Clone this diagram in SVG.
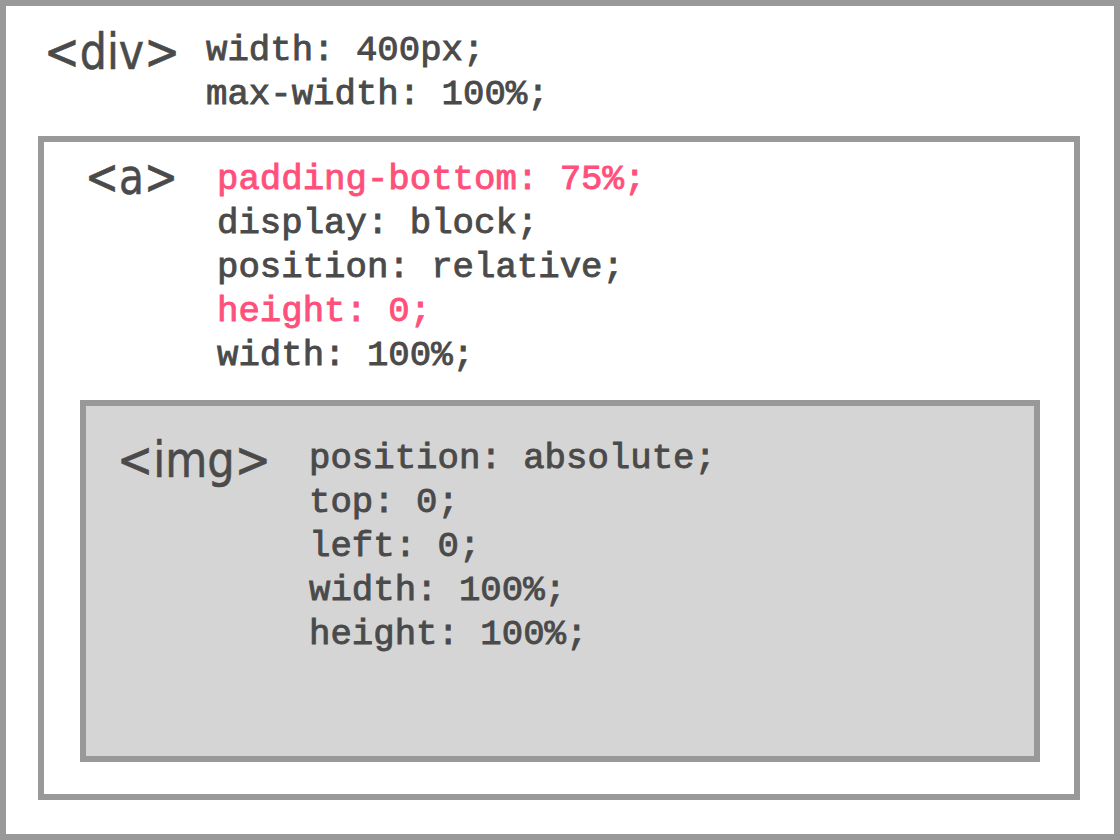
<svg xmlns="http://www.w3.org/2000/svg" width="1120" height="840" viewBox="0 0 1120 840">
<style>
.box{fill:#fff;stroke:#999;stroke-width:6}
.img{fill:#d5d5d5;stroke:#999;stroke-width:6}
.tag{font-family:"DejaVu Sans","Open Sans",sans-serif;font-size:50px;fill:#4a4a4a;stroke:#4a4a4a;stroke-width:0.6px}
.code{font-family:"Liberation Mono","Courier New",monospace;font-size:35.7px;fill:#4a4a4a;stroke:#4a4a4a;stroke-width:0.9px}
.hl{fill:#ff4f7b;stroke:#ff4f7b}
</style>
<rect width="1120" height="840" fill="#fff"/>
<g id="div">
<rect class="box" x="3" y="3" width="1114" height="834"/>
<text class="tag" x="44" y="69" textLength="136" lengthAdjust="spacingAndGlyphs">&lt;div&gt;</text>
<text class="code" x="206" y="60">width: 400px;</text>
<text class="code" x="206" y="104">max-width: 100%;</text>
</g>
<g id="a">
<rect class="box" x="41" y="139" width="1036" height="658"/>
<text class="tag" x="85" y="194" textLength="93" lengthAdjust="spacingAndGlyphs">&lt;a&gt;</text>
<text class="code hl" x="217" y="189">padding-bottom: 75%;</text>
<text class="code" x="217" y="233">display: block;</text>
<text class="code" x="217" y="277">position: relative;</text>
<text class="code hl" x="217" y="321">height: 0;</text>
<text class="code" x="217" y="365">width: 100%;</text>
</g>
<g id="img">
<rect class="img" x="83" y="403" width="954" height="356"/>
<text class="tag" x="117" y="477" textLength="154" lengthAdjust="spacingAndGlyphs">&lt;img&gt;</text>
<text class="code" x="309" y="468">position: absolute;</text>
<text class="code" x="309" y="512">top: 0;</text>
<text class="code" x="309" y="556">left: 0;</text>
<text class="code" x="309" y="600">width: 100%;</text>
<text class="code" x="309" y="644">height: 100%;</text>
</g>
<g id="connectors"/>
</svg>
